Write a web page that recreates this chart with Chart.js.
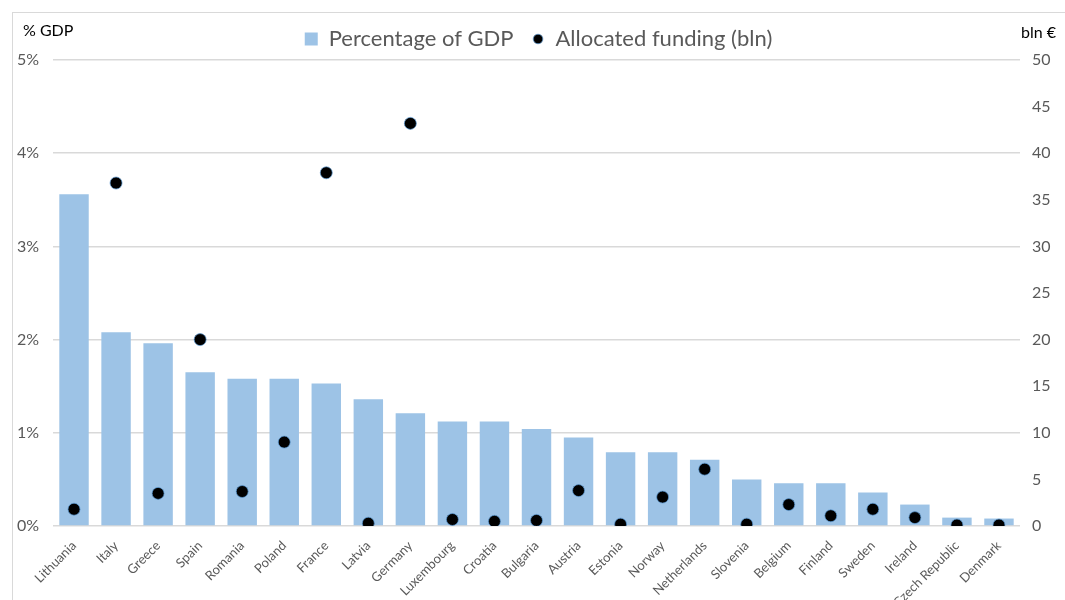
<!DOCTYPE html>
<html>
<head>
<meta charset="utf-8">
<script src="https://cdn.jsdelivr.net/npm/chart.js@4/dist/chart.umd.min.js"></script>
<style>
  html, body { margin: 0; padding: 0; background: #fff; }
  #wrap { width: 1065px; height: 600px; }
</style>
</head>
<body>
<div id="wrap"><canvas id="chart" width="1065" height="600"></canvas></div>
<script>
// values
const countries = ['Lithuania', 'Italy', 'Greece', 'Spain', 'Romania', 'Poland', 'France', 'Latvia',
    'Germany', 'Luxembourg', 'Croatia', 'Bulgaria', 'Austria', 'Estonia', 'Norway', 'Netherlands',
    'Slovenia', 'Belgium', 'Finland', 'Sweden', 'Ireland', 'Czech Republic', 'Denmark'];
const pctGdp = [3.56, 2.08, 1.96, 1.65, 1.58, 1.58, 1.53, 1.36, 1.21, 1.12, 1.12, 1.04, 0.95, 0.79,
    0.79, 0.71, 0.50, 0.46, 0.46, 0.36, 0.23, 0.09, 0.08];
const fundingBln = [1.8, 36.8, 3.5, 20.0, 3.7, 9.0, 37.9, 0.3, 43.2, 0.7, 0.5, 0.6, 3.8, 0.2, 3.1,
    6.1, 0.2, 2.3, 1.1, 1.8, 0.9, 0.1, 0.1];

const fontFamily = 'Lato, "Open Sans", sans-serif';
const tickGrey = '#595959';

// small dot for the legend (the built-in circle would be too big next to the square)
const legendDot = document.createElement('canvas');
legendDot.width = 12;
legendDot.height = 12;
const dctx = legendDot.getContext('2d');
dctx.beginPath();
dctx.arc(6, 6, 4.8, 0, Math.PI * 2);
dctx.fillStyle = '#000';
dctx.fill();
dctx.strokeStyle = '#5b9bd5';
dctx.lineWidth = 0.7;
dctx.stroke();

// outer frame and the two axis captions
const extras = {
    id: 'extras',
    afterDraw(chart) {
        const ctx = chart.ctx;
        ctx.save();
        ctx.strokeStyle = '#d9d9d9';
        ctx.lineWidth = 1;
        ctx.strokeRect(12.5, 12.5, 1070, 600);
        ctx.fillStyle = '#000';
        ctx.font = '16px ' + fontFamily;
        ctx.textBaseline = 'middle';
        ctx.textAlign = 'left';
        ctx.fillText('% GDP', 23, 31);
        ctx.textAlign = 'right';
        ctx.fillText('bln €', 1056, 33);
        ctx.restore();
    }
};

const ctx = document.getElementById('chart').getContext('2d');
new Chart(ctx, {
    data: {
        labels: countries,
        datasets: [
            {
                type: 'scatter',
                label: 'Allocated funding (bln)',
                data: fundingBln,
                yAxisID: 'y1',
                backgroundColor: '#000',
                borderColor: '#5b9bd5',
                borderWidth: 0.7,
                pointRadius: 6,
                order: 0
            },
            {
                type: 'bar',
                label: 'Percentage of GDP',
                data: pctGdp,
                yAxisID: 'y',
                backgroundColor: '#9dc3e6',
                barPercentage: 0.7,
                categoryPercentage: 1,
                order: 1
            }
        ]
    },
    options: {
        responsive: false,
        animation: false,
        layout: { padding: { left: 17, right: 5, top: 10, bottom: 0 } },
        plugins: {
            tooltip: { enabled: false },
            legend: {
                position: 'top',
                reverse: true,
                labels: {
                    usePointStyle: true,
                    boxWidth: 13,
                    boxHeight: 13,
                    padding: 18,
                    color: tickGrey,
                    font: { family: fontFamily, size: 22 },
                    generateLabels(chart) {
                        const items = Chart.defaults.plugins.legend.labels.generateLabels(chart);
                        items.forEach(it => {
                            if (it.datasetIndex === 0) {
                                it.pointStyle = legendDot;
                            } else {
                                it.pointStyle = 'rect';
                                it.lineWidth = 0;
                            }
                        });
                        return items;
                    }
                }
            }
        },
        scales: {
            x: {
                type: 'category',
                offset: true,
                grid: { display: false },
                border: { display: false },
                ticks: {
                    color: tickGrey,
                    font: { family: fontFamily, size: 13 },
                    maxRotation: 45,
                    minRotation: 45,
                    autoSkip: false,
                    padding: 4
                },
                afterFit(scale) { scale.height = 74; }
            },
            y: {
                position: 'left',
                min: 0,
                max: 5,
                grid: { color: '#d9d9d9', drawTicks: false, lineWidth: 1.5 },
                border: { display: false },
                ticks: {
                    stepSize: 1,
                    padding: 14,
                    color: tickGrey,
                    font: { family: fontFamily, size: 16 },
                    callback: v => v + '%'
                },
                afterFit(scale) { scale.width = 36; }
            },
            y1: {
                position: 'right',
                min: 0,
                max: 50,
                grid: { display: false, drawTicks: false },
                border: { display: false },
                ticks: {
                    stepSize: 5,
                    padding: 12,
                    color: tickGrey,
                    font: { family: fontFamily, size: 16 }
                },
                afterFit(scale) { scale.width = 40; }
            }
        }
    },
    plugins: [extras]
});
</script>
</body>
</html>
